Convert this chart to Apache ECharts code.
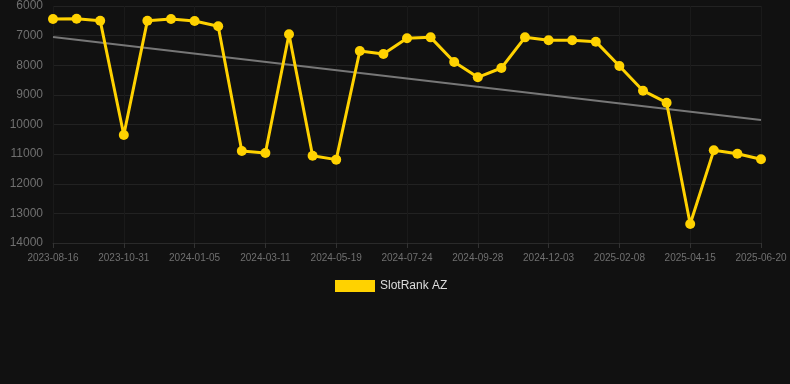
<!DOCTYPE html>
<html><head><meta charset="utf-8">
<script src="https://cdn.jsdelivr.net/npm/echarts@6/dist/echarts.min.js"></script>
<style>html,body{margin:0;padding:0;background:#111111;}#c{width:790px;height:384px;}</style>
</head><body><div id="c"></div>
<script>
const categories = [
  '2023-08-16','2023-09-11','2023-10-06','2023-10-31','2023-11-22','2023-12-14','2024-01-05',
  '2024-01-27','2024-02-18','2024-03-11','2024-04-03','2024-04-26','2024-05-19','2024-06-10',
  '2024-07-02','2024-07-24','2024-08-15','2024-09-06','2024-09-28','2024-10-20','2024-11-11',
  '2024-12-03','2024-12-25','2025-01-17','2025-02-08','2025-03-02','2025-03-24','2025-04-15',
  '2025-05-07','2025-05-29','2025-06-20'
];
const rankValues = [
  6440, 6430, 6495, 10355, 6495, 6440, 6506,
  6686, 10895, 10962, 6956, 11052, 11186, 7519,
  7620, 7091, 7058, 7890, 8408, 8093, 7058,
  7159, 7159, 7204, 8025, 8859, 9264, 13359,
  10872, 10985, 11175
];
const trendStart = 7046;
const trendEnd = 9848;
const yTicks = {min: 6000, max: 14000, step: 1000};
const seriesName = 'SlotRank AZ';

const trendValues = categories.map((c, i) => i === 0 ? trendStart : (i === categories.length - 1 ? trendEnd : null));

const chart = echarts.init(document.getElementById('c'), null, {renderer: 'canvas'});
chart.setOption({
  backgroundColor: '#111111',
  animation: false,
  grid: {left: 53, right: 29, top: 6, bottom: 141},
  legend: {
    data: [seriesName],
    top: 275,
    left: 330,
    itemWidth: 40,
    itemHeight: 12,
    itemGap: 10,
    textStyle: {color: '#dddddd', fontSize: 12, fontFamily: 'Liberation Sans, Arial, sans-serif'},
    icon: 'rect'
  },
  xAxis: {
    type: 'category',
    data: categories,
    boundaryGap: false,
    axisLine: {show: true, lineStyle: {color: '#2a2a2a'}},
    axisTick: {show: true, interval: 2, lineStyle: {color: '#333'}},
    axisLabel: {interval: 2, color: '#707070', fontSize: 10, margin: 10, fontFamily: 'Liberation Sans, Arial, sans-serif'},
    splitLine: {show: true, interval: 2, lineStyle: {color: '#1a1a1a'}}
  },
  yAxis: {
    type: 'value',
    inverse: true,
    min: yTicks.min,
    max: yTicks.max,
    interval: yTicks.step,
    axisLine: {show: false},
    axisTick: {show: false},
    axisLabel: {color: '#707070', fontSize: 12, margin: 10, formatter: v => String(v), fontFamily: 'Liberation Sans, Arial, sans-serif'},
    splitLine: {show: true, lineStyle: {color: '#222222'}}
  },
  series: [
    {
      name: 'trend',
      type: 'line',
      data: trendValues,
      connectNulls: true,
      symbol: 'none',
      lineStyle: {color: '#777777', width: 2},
      silent: true,
      z: 1
    },
    {
      name: seriesName,
      type: 'line',
      data: rankValues,
      symbol: 'circle',
      symbolSize: 10,
      itemStyle: {color: '#FFD200'},
      lineStyle: {color: '#FFD200', width: 3},
      z: 2
    }
  ]
});
</script></body></html>
